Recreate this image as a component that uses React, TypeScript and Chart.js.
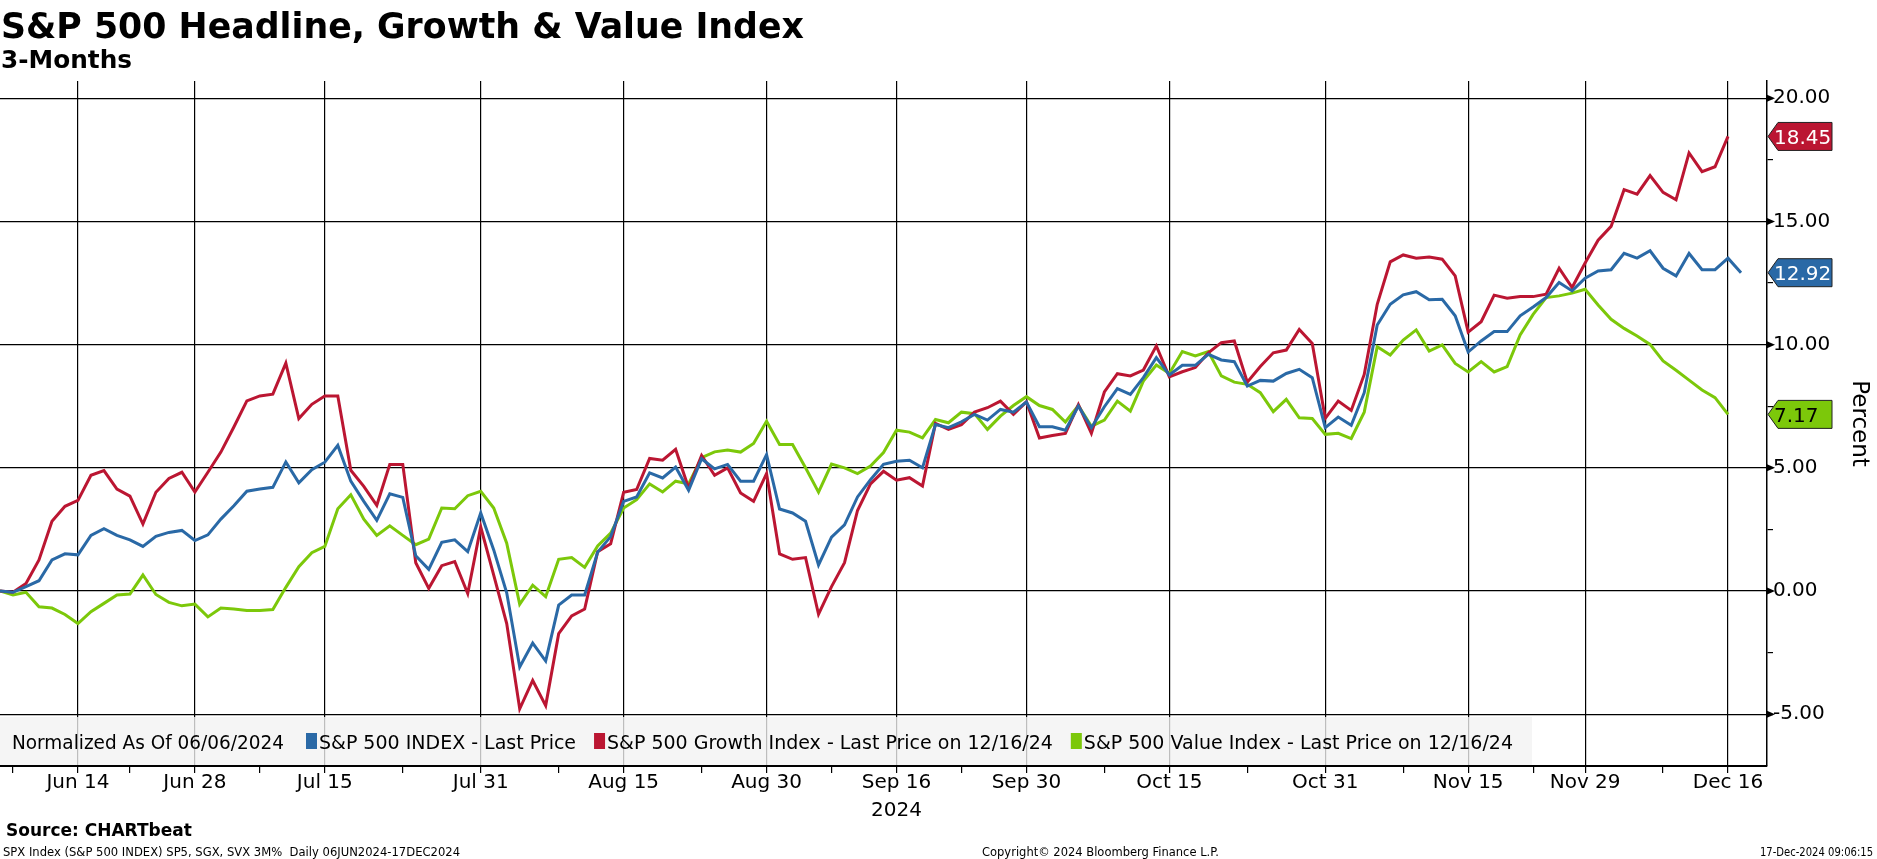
import React, { useEffect, useRef } from 'react';
import { Chart, registerables } from 'chart.js';

Chart.register(...registerables);

// ---------- DATA ----------
const START_DATE = '2024-06-06';
const END_DATE = '2024-12-17';
const HOLIDAYS = ['2024-06-19', '2024-07-04', '2024-09-02', '2024-11-28'];

const MAJOR_TICK_DATES = [
  '2024-06-14', '2024-06-28', '2024-07-15', '2024-07-31', '2024-08-15', '2024-08-30',
  '2024-09-16', '2024-09-30', '2024-10-15', '2024-10-31', '2024-11-15', '2024-11-29', '2024-12-16',
];
const MAJOR_TICK_LABELS = [
  'Jun 14', 'Jun 28', 'Jul 15', 'Jul 31', 'Aug 15', 'Aug 30',
  ['Sep 16', '2024'], 'Sep 30', 'Oct 15', 'Oct 31', 'Nov 15', 'Nov 29', 'Dec 16',
];
const MINOR_TICK_DATES = [
  '2024-06-07', '2024-06-21', '2024-07-08', '2024-07-23', '2024-08-08', '2024-08-23',
  '2024-09-09', '2024-09-23', '2024-10-08', '2024-10-23', '2024-11-08', '2024-11-22', '2024-12-09',
];

const Y_MAJOR_TICKS = [-5, 0, 5, 10, 15, 20];
const Y_MINOR_TICKS = [-2.5, 2.5, 7.5, 12.5, 17.5];

const SPX_NAME = 'S&P 500 INDEX - Last Price';
const GROWTH_NAME = 'S&P 500 Growth Index - Last Price on 12/16/24';
const VALUE_NAME = 'S&P 500 Value Index - Last Price on 12/16/24';
const NORMALIZED_TEXT = 'Normalized As Of 06/06/2024';

const SPX = [
  0, -0.05, 0.18, 0.42, 1.26, 1.51, 1.47, 2.26, 2.53, 2.26,
  2.08, 1.81, 2.22, 2.38, 2.46, 2.05, 2.28, 2.92, 3.46, 4.05,
  4.14, 4.21, 5.24, 4.39, 4.93, 5.23, 5.91, 4.46, 3.64, 2.87,
  3.95, 3.80, 1.43, 0.88, 1.98, 2.08, 1.60, 3.17, 1.67, -0.07,
  -3.08, -2.11, -2.84, -0.57, -0.16, -0.16, 1.58, 2.21, 3.64, 3.82,
  4.80, 4.59, 5.03, 4.09, 5.37, 4.96, 5.14, 4.46, 4.46, 5.54,
  3.33, 3.17, 2.83, 1.06, 2.19, 2.69, 3.82, 4.52, 5.14, 5.27,
  5.31, 5.00, 6.76, 6.63, 6.87, 7.17, 6.94, 7.37, 7.26, 7.67,
  6.67, 6.67, 6.53, 7.51, 6.63, 7.48, 8.22, 7.98, 8.66, 9.47,
  8.77, 9.16, 9.16, 9.61, 9.38, 9.31, 8.32, 8.55, 8.52, 8.83,
  9.00, 8.66, 6.63, 7.06, 6.73, 8.05, 10.80, 11.64, 12.02, 12.15,
  11.82, 11.84, 11.17, 9.70, 10.15, 10.53, 10.53, 11.17, 11.53, 11.91,
  12.52, 12.18, 12.70, 12.99, 13.04, 13.71, 13.51, 13.81, 13.10, 12.79,
  13.70, 13.04, 13.04, 13.51, 12.92,
];

const GROWTH = [
  0, -0.05, 0.31, 1.26, 2.83, 3.44, 3.68, 4.70, 4.89, 4.14,
  3.85, 2.72, 4.01, 4.57, 4.82, 4.02, 4.82, 5.64, 6.66, 7.72,
  7.92, 7.99, 9.25, 7.00, 7.58, 7.92, 7.92, 4.90, 4.25, 3.48,
  5.14, 5.14, 1.15, 0.11, 1.03, 1.20, -0.10, 2.60, 0.65, -1.32,
  -4.78, -3.63, -4.65, -1.73, -1.01, -0.73, 1.60, 1.92, 4.01, 4.12,
  5.38, 5.31, 5.75, 4.18, 5.50, 4.70, 5.00, 3.98, 3.64, 4.77,
  1.51, 1.29, 1.36, -0.94, 0.18, 1.15, 3.27, 4.35, 4.86, 4.50,
  4.60, 4.26, 6.80, 6.56, 6.75, 7.26, 7.44, 7.71, 7.17, 7.68,
  6.21, 6.31, 6.40, 7.57, 6.40, 8.08, 8.82, 8.73, 8.97, 9.95,
  8.69, 8.90, 9.07, 9.67, 10.08, 10.15, 8.48, 9.11, 9.67, 9.78,
  10.62, 10.05, 7.01, 7.71, 7.33, 8.79, 11.64, 13.36, 13.64, 13.51,
  13.56, 13.47, 12.79, 10.51, 10.93, 12.01, 11.88, 11.95, 11.95, 12.05,
  13.10, 12.32, 13.31, 14.24, 14.80, 16.29, 16.11, 16.86, 16.18, 15.88,
  17.78, 17.02, 17.22, 18.45,
];

const VALUE = [
  0, -0.16, -0.05, -0.64, -0.69, -0.95, -1.32, -0.84, -0.50, -0.16,
  -0.12, 0.65, -0.14, -0.46, -0.60, -0.53, -1.05, -0.69, -0.73, -0.79,
  -0.79, -0.75, 0.15, 0.99, 1.56, 1.81, 3.34, 3.91, 2.92, 2.26,
  2.65, 2.26, 1.88, 2.11, 3.37, 3.34, 3.87, 4.05, 3.37, 1.94,
  -0.54, 0.24, -0.23, 1.29, 1.36, 0.96, 1.83, 2.35, 3.37, 3.71,
  4.35, 4.02, 4.46, 4.35, 5.41, 5.65, 5.72, 5.64, 5.99, 6.89,
  5.95, 5.95, 5.00, 4.01, 5.15, 5.00, 4.77, 5.07, 5.62, 6.53,
  6.45, 6.22, 6.96, 6.83, 7.26, 7.20, 6.56, 7.10, 7.53, 7.89,
  7.53, 7.37, 6.86, 7.53, 6.69, 6.94, 7.71, 7.30, 8.52, 9.17,
  8.83, 9.72, 9.54, 9.72, 8.73, 8.48, 8.39, 8.05, 7.28, 7.78,
  7.03, 7.00, 6.36, 6.40, 6.19, 7.26, 9.92, 9.58, 10.19, 10.60,
  9.74, 9.99, 9.24, 8.89, 9.31, 8.89, 9.11, 10.39, 11.23, 11.91,
  11.98, 12.09, 12.25, 11.61, 11.03, 10.66, 10.35, 10.01, 9.34, 8.96,
  8.56, 8.16, 7.85, 7.17,
];

// ---------- STYLE ----------
const BLUE = '#2a69a6';
const RED = '#bb1632';
const GREEN = '#7cc80a';
const FONT = '"DejaVu Sans", "Noto Sans", sans-serif';

function tradingDays(start: string, end: string, holidays: string[]): string[] {
  const out: string[] = [];
  const d = new Date(start + 'T00:00:00Z');
  const e = new Date(end + 'T00:00:00Z');
  while (d <= e) {
    const iso = d.toISOString().slice(0, 10);
    const wd = d.getUTCDay();
    if (wd !== 0 && wd !== 6 && !holidays.includes(iso)) out.push(iso);
    d.setUTCDate(d.getUTCDate() + 1);
  }
  return out;
}

function drawText(
  ctx: CanvasRenderingContext2D, s: string, x: number, y: number, font: string,
  color: string, align: 'left' | 'right' | 'center' = 'left', fitWidth?: number,
) {
  ctx.save();
  ctx.font = font;
  ctx.fillStyle = color;
  ctx.textBaseline = 'alphabetic';
  ctx.textAlign = 'left';
  const w = ctx.measureText(s).width;
  const sx = fitWidth ? fitWidth / w : 1;
  const x0 = align === 'left' ? x : align === 'right' ? x - w * sx : x - (w * sx) / 2;
  ctx.translate(x0, y);
  ctx.scale(sx, 1);
  ctx.fillText(s, 0, 0);
  ctx.restore();
}

export default function App() {
  const ref = useRef<HTMLCanvasElement | null>(null);

  useEffect(() => {
    document.body.style.margin = '0';
    const canvas = ref.current;
    if (!canvas) return;

    const dates = tradingDays(START_DATE, END_DATE, HOLIDAYS);
    const majorIdx = MAJOR_TICK_DATES.map((d) => dates.indexOf(d));
    const minorIdx = MINOR_TICK_DATES.map((d) => dates.indexOf(d));
    const xMax = dates.length + 1;

    const toPts = (arr: number[]) => arr.map((v, i) => ({ x: i, y: v }));

    const overlay = {
      id: 'bbgOverlay',
      beforeDraw(chart: any) {
        const c = chart.ctx;
        c.save();
        c.fillStyle = '#ffffff';
        c.fillRect(0, 0, chart.width, chart.height);
        c.restore();
      },
      afterDatasetsDraw(chart: any) {
        const c: CanvasRenderingContext2D = chart.ctx;
        const area = chart.chartArea;
        const ys = chart.scales.y;

        // legend box
        c.save();
        c.fillStyle = 'rgba(242,242,242,0.78)';
        c.fillRect(area.left, 717, 1532, area.bottom - 717 - 1);
        c.restore();
        const lf = `19px ${FONT}`;
        c.save();
        c.font = lf;
        let lx = 12;
        const ly = 749;
        drawText(c, NORMALIZED_TEXT, lx, ly, lf, '#000', 'left', 272);
        lx += 272 + 22;
        const items: [string, string][] = [[BLUE, SPX_NAME], [RED, GROWTH_NAME], [GREEN, VALUE_NAME]];
        for (const [col, name] of items) {
          c.fillStyle = col;
          c.fillRect(lx, 733, 11, 16);
          lx += 13;
          drawText(c, name, lx, ly, lf, '#000');
          lx += c.measureText(name).width + 18;
        }
        c.restore();

        // arrowheads on major y ticks
        c.save();
        c.fillStyle = '#000';
        for (const v of Y_MAJOR_TICKS) {
          const y = ys.getPixelForValue(v);
          c.beginPath();
          c.moveTo(area.right, y - 3.5);
          c.lineTo(area.right + 8, y);
          c.lineTo(area.right, y + 3.5);
          c.closePath();
          c.fill();
        }
        c.restore();

        // last-value tags
        const tags: [number[], string, string][] = [
          [GROWTH, RED, '#ffffff'],
          [SPX, BLUE, '#ffffff'],
          [VALUE, GREEN, '#000000'],
        ];
        for (const [arr, col, tcol] of tags) {
          const v = arr[arr.length - 1];
          const y = ys.getPixelForValue(v);
          const x0 = area.right + 1;
          const h = 14;
          c.save();
          c.beginPath();
          c.moveTo(x0, y);
          c.lineTo(x0 + 10, y - h);
          c.lineTo(1832, y - h);
          c.lineTo(1832, y + h);
          c.lineTo(x0 + 10, y + h);
          c.closePath();
          c.fillStyle = col;
          c.fill();
          c.lineWidth = 1;
          c.strokeStyle = '#222';
          c.stroke();
          c.restore();
          drawText(c, v.toFixed(2), x0 + 6, y + 7.5, `20px ${FONT}`, tcol);
        }

        // titles & footers
        drawText(c, 'S&P 500 Headline, Growth & Value Index', 1, 38, `bold 35px ${FONT}`, '#000', 'left', 803);
        drawText(c, '3-Months', 1, 68, `bold 25px ${FONT}`, '#000', 'left', 131);
        drawText(c, 'Source: CHARTbeat', 6, 836, `bold 17px ${FONT}`, '#000');
        drawText(c, 'SPX Index (S&P 500 INDEX) SP5, SGX, SVX 3M%  Daily 06JUN2024-17DEC2024', 3, 856, `13px ${FONT}`, '#000', 'left', 457);
        drawText(c, 'Copyright\u00A9 2024 Bloomberg Finance L.P.', 982, 856, `13px ${FONT}`, '#000', 'left', 237);
        drawText(c, '17-Dec-2024 09:06:15', 1873, 856, `13px ${FONT}`, '#000', 'right', 113);
      },
    };

    const chart = new Chart(canvas, {
      type: 'line',
      data: {
        datasets: [
          { label: SPX_NAME, data: toPts(SPX), borderColor: BLUE, borderWidth: 3, pointRadius: 0, tension: 0 },
          { label: GROWTH_NAME, data: toPts(GROWTH), borderColor: RED, borderWidth: 3, pointRadius: 0, tension: 0 },
          { label: VALUE_NAME, data: toPts(VALUE), borderColor: GREEN, borderWidth: 3, pointRadius: 0, tension: 0 },
        ],
      },
      options: {
        responsive: false,
        animation: false,
        devicePixelRatio: 1,
        layout: { padding: { top: 81, left: 0, right: 0, bottom: 0 } },
        plugins: { legend: { display: false }, tooltip: { enabled: false }, title: { display: false } },
        scales: {
          x: {
            type: 'linear',
            min: 0,
            max: xMax,
            afterBuildTicks: (scale: any) => {
              scale.ticks = [...majorIdx, ...minorIdx].sort((a, b) => a - b).map((v) => ({ value: v }));
            },
            afterFit: (scale: any) => {
              scale.height = 93;
            },
            grid: {
              color: (ctx: any) => (ctx.tick && majorIdx.includes(ctx.tick.value) ? '#000' : 'rgba(0,0,0,0)'),
              lineWidth: 1.2,
              tickColor: '#000',
              tickLength: 7,
              drawTicks: true,
            },
            border: { display: true, color: '#000', width: 2 },
            ticks: {
              autoSkip: false,
              maxRotation: 0,
              padding: -4,
              color: '#000',
              font: { family: FONT, size: 20, lineHeight: 1.4 },
              callback: (value: any) => {
                const k = majorIdx.indexOf(value);
                return k >= 0 ? (MAJOR_TICK_LABELS[k] as any) : '';
              },
            },
          },
          y: {
            type: 'linear',
            position: 'right',
            min: -7.1,
            max: 20.7,
            afterBuildTicks: (scale: any) => {
              scale.ticks = [...Y_MAJOR_TICKS, ...Y_MINOR_TICKS].sort((a, b) => a - b).map((v) => ({ value: v }));
            },
            afterFit: (scale: any) => {
              scale.width = 110;
            },
            grid: {
              color: (ctx: any) => (ctx.tick && Y_MAJOR_TICKS.includes(ctx.tick.value) ? '#000' : 'rgba(0,0,0,0)'),
              lineWidth: 1.2,
              tickColor: '#000',
              tickLength: 6,
            },
            border: { display: true, color: '#000', width: 1.5 },
            ticks: {
              padding: 0,
              color: '#000',
              font: { family: FONT, size: 20 },
              callback: (value: any) => (Y_MAJOR_TICKS.includes(value) ? Number(value).toFixed(2) : ''),
            },
            title: {
              display: true,
              text: 'Percent',
              color: '#000',
              font: { family: FONT, size: 23 },
              padding: { top: 4, bottom: 0 },
            },
          },
        },
      },
      plugins: [overlay],
    } as any);

    return () => chart.destroy();
  }, []);

  return (
    <div style={{ width: 1877, height: 859 }}>
      <canvas ref={ref} width={1877} height={859} style={{ display: 'block', width: 1877, height: 859 }} />
    </div>
  );
}
